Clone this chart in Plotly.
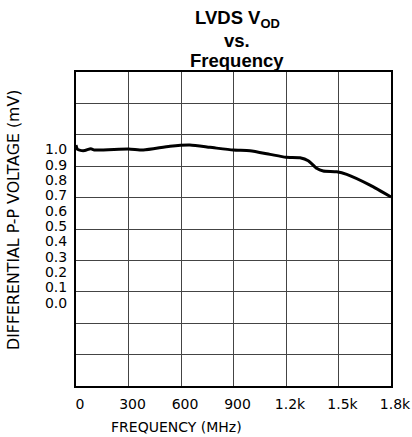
import plotly.graph_objects as go

freq_mhz = [0, 8, 25, 50, 85, 105, 300, 385, 537, 651, 766, 899, 994, 1109, 1200,
            1280, 1327, 1375, 1413, 1490, 1547, 1680, 1800]
vod = [1.028, 1.0, 0.993, 0.992, 1.004, 0.996, 1.002, 0.995, 1.02, 1.028, 1.013, 0.995,
       0.991, 0.967, 0.948, 0.945, 0.926, 0.876, 0.859, 0.854, 0.837, 0.767, 0.69]

x_tickvals = [0, 300, 600, 900, 1200, 1500, 1800]
x_ticktext = ["0", "300", "600", "900", "1.2k", "1.5k", "1.8k"]
y_tickvals = [1.0, 0.9, 0.8, 0.7, 0.6, 0.5, 0.4, 0.3, 0.2, 0.1, 0.0]
y_ticktext = ["1.0", "0.9", "0.8", "0.7", "0.6", "0.5", "0.4", "0.3", "0.2", "0.1", "0.0"]
grid_divs = [0, 10]
title_lines = ["LVDS V<sub>OD</sub>", "vs.", "Frequency"]

TICKFONT = "DejaVu Sans, sans-serif"
TITLEFONT = "Liberation Sans, Arial, sans-serif"

W, H = 412, 437
L, R, T, B = 76, 21, 72, 51
PH = H - T - B
PW = W - L - R

fig = go.Figure()
fig.add_trace(go.Scatter(x=freq_mhz, y=vod, mode="lines",
                         line=dict(color="black", width=3, shape="spline", smoothing=0.6),
                         showlegend=False, hoverinfo="skip"))
fig.add_trace(go.Scatter(x=[0, 1800], y=grid_divs, yaxis="y2", mode="markers",
                         marker=dict(opacity=0), showlegend=False, hoverinfo="skip"))

annotations = []
for text, yc in zip(title_lines, [19, 40, 61]):
    annotations.append(dict(text="<b>" + text + "</b>", xref="paper", yref="paper",
                            x=(237 - L) / PW, y=1 + (T - yc) / PH,
                            xanchor="center", yanchor="middle", showarrow=False,
                            font=dict(family=TITLEFONT, size=18.5, color="black")))
annotations.append(dict(text="FREQUENCY (MHz)", xref="paper", yref="paper",
                        x=(176 - L) / PW, y=-(427 - (T + PH)) / PH,
                        xanchor="center", yanchor="middle", showarrow=False,
                        font=dict(family=TICKFONT, size=14, color="black")))
annotations.append(dict(text="DIFFERENTIAL P-P VOLTAGE (mV)", xref="paper", yref="paper",
                        x=-(L - 13) / PW, y=1 - (220 - T) / PH, textangle=-90,
                        xanchor="center", yanchor="middle", showarrow=False,
                        font=dict(family=TICKFONT, size=15.8, color="black")))

fig.update_layout(
    width=W, height=H,
    margin=dict(l=L, r=R, t=T, b=B, autoexpand=False),
    paper_bgcolor="white", plot_bgcolor="white",
    font=dict(family=TICKFONT, color="black", size=14),
    annotations=annotations,
    xaxis=dict(range=[0, 1800], tickvals=x_tickvals, ticktext=x_ticktext,
               showgrid=True, gridcolor="#444", gridwidth=1, zeroline=False,
               showline=True, linecolor="black", linewidth=2, mirror=True,
               ticks="", ticklabelstandoff=4, ticklabelshift=4, automargin=False,
               tickfont=dict(size=14, family=TICKFONT)),
    yaxis=dict(range=[-0.543, 1.504], tickvals=y_tickvals, ticktext=y_ticktext,
               showgrid=False, zeroline=False,
               showline=True, linecolor="black", linewidth=2, mirror=True,
               ticks="", ticklabelstandoff=4, automargin=False,
               tickfont=dict(size=14, family=TICKFONT)),
    yaxis2=dict(range=[0, 10], dtick=1, overlaying="y", side="right",
                showgrid=True, gridcolor="#444", gridwidth=1, zeroline=False,
                showticklabels=False, ticks="", showline=False, automargin=False),
)

fig.write_html("out.html", config={"displayModeBar": False},
               post_script="document.body.style.margin='0';document.body.style.overflow='hidden';")
